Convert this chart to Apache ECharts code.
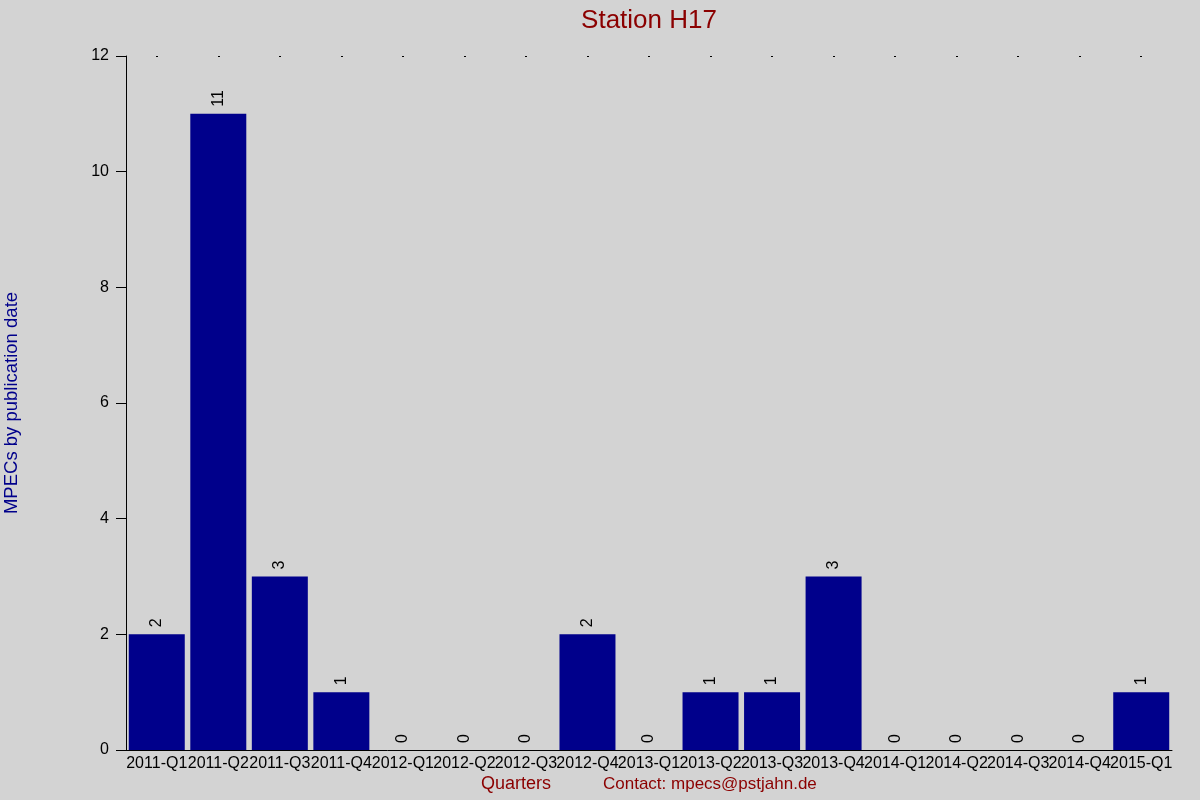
<!DOCTYPE html>
<html><head><meta charset="utf-8">
<script src="https://cdn.jsdelivr.net/npm/echarts@6/dist/echarts.min.js"></script>
<style>html,body{margin:0;padding:0;background:#d3d3d3}#c{width:1200px;height:800px}</style>
</head><body><div id="c"></div>
<script>
const categories = ["2011-Q1","2011-Q2","2011-Q3","2011-Q4","2012-Q1","2012-Q2","2012-Q3","2012-Q4","2013-Q1","2013-Q2","2013-Q3","2013-Q4","2014-Q1","2014-Q2","2014-Q3","2014-Q4","2015-Q1"];
const values = [2,11,3,1,0,0,0,2,0,1,1,3,0,0,0,0,1];
const yTicks = [0,2,4,6,8,10,12];
const titleText = "Station H17";
const yName = "MPECs by publication date";
const xName = "Quarters";
const contactText = "Contact: mpecs@pstjahn.de";

const font = '"Liberation Sans", Arial, sans-serif';
const chart = echarts.init(document.getElementById('c'), null, {renderer:'canvas'});
chart.setOption({
  backgroundColor: '#d3d3d3',
  animation: false,
  title: {text: titleText, left: 644, top: 3, textAlign: 'center',
    textStyle: {color: '#8b0000', fontSize: 26, fontWeight: 'normal', fontFamily: font}},
  graphic: [
    {type:'text', left: 603, top: 776, style:{text: contactText, fill:'#8b0000', font: '17px ' + font}},
    {type:'text', left: 481, top: 775, style:{text: xName, fill:'#8b0000', font: '18px ' + font}},
    {type:'text', x: 2, y: 403, rotation: Math.PI/2, style:{text: yName, fill:'#00008b', font: '18.5px ' + font, align:'center', verticalAlign:'top'}}
  ],
  grid: {left: 126, right: 28, top: 56, bottom: 50, containLabel: false},
  xAxis: [
    {type:'category', data: categories, position:'bottom',
     axisLine:{show:true, lineStyle:{color:'#000', width:1}},
     axisTick:{show:false},
     axisLabel:{interval:0, color:'#000', fontSize:16, fontFamily:font, margin:6}},
    {type:'category', data: categories, position:'top',
     axisLine:{show:false},
     axisTick:{show:true, alignWithLabel:true, length:1, inside:true, lineStyle:{color:'#000', width:2}},
     axisLabel:{show:false}}
  ],
  yAxis: {type:'value', min: yTicks[0], max: yTicks[yTicks.length-1], interval: 2,
    axisLine:{show:true, lineStyle:{color:'#000', width:1}},
    axisTick:{show:true, length:10, lineStyle:{color:'#000'}},
    axisLabel:{color:'#000', fontSize:16, fontFamily:font, margin:17},
    splitLine:{show:false}},
  series: [{
    type:'bar', data: values, xAxisIndex:0, barCategoryGap:'9%',
    itemStyle:{color:'#00008b'},
    label:{show:true, position:'top', rotate:90, align:'left', verticalAlign:'middle', distance:7,
      color:'#000', fontSize:16, fontFamily:font}
  }]
});
</script></body></html>
